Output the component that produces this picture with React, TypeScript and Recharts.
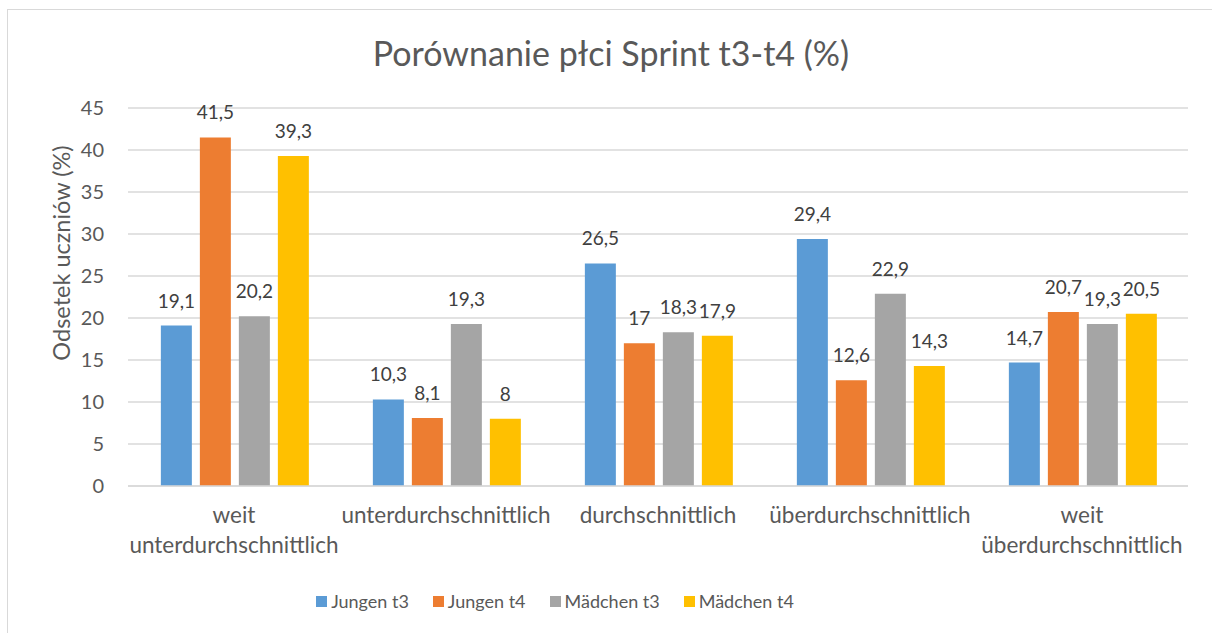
import React from "react";
import { BarChart, Bar, XAxis, YAxis, CartesianGrid, Legend, LabelList } from "recharts";

const categories = [
  "weit unterdurchschnittlich",
  "unterdurchschnittlich",
  "durchschnittlich",
  "überdurchschnittlich",
  "weit überdurchschnittlich",
];
const jungenT3 = [19.1, 10.3, 26.5, 29.4, 14.7];
const jungenT4 = [41.5, 8.1, 17, 12.6, 20.7];
const maedchenT3 = [20.2, 19.3, 18.3, 22.9, 19.3];
const maedchenT4 = [39.3, 8, 17.9, 14.3, 20.5];
const seriesNames = ["Jungen t3", "Jungen t4", "Mädchen t3", "Mädchen t4"];
const seriesKeys = ["jt3", "jt4", "mt3", "mt4"];
const seriesColors = ["#5B9BD5", "#ED7D31", "#A5A5A5", "#FFC000"];
const yTicks = [0, 5, 10, 15, 20, 25, 30, 35, 40, 45];
const title = "Porównanie płci Sprint t3-t4 (%)";
const yLabel = "Odsetek uczniów (%)";

const data = categories.map((c, i) => ({
  category: c,
  jt3: jungenT3[i],
  jt4: jungenT4[i],
  mt3: maedchenT3[i],
  mt4: maedchenT4[i],
}));

const FONT = "Lato, 'Open Sans', sans-serif";
const TEXT = "#595959";

const XTick = (props: any) => {
  const { x, y, payload } = props;
  const words = String(payload.value).split(" ");
  return (
    <g>
      {words.map((w: string, i: number) => (
        <text
          key={i}
          x={x}
          y={y + 29 + i * 30}
          textAnchor="middle"
          fill={TEXT}
          fontSize={22.5}
          fontFamily={FONT}
        >
          {w}
        </text>
      ))}
    </g>
  );
};

const fmt = (v: any) => String(v).replace(".", ",");

const DataLabel = (props: any) => {
  const { x, y, width, value } = props;
  return (
    <text
      x={x + width / 2}
      y={y - 18}
      textAnchor="middle"
      fill="#404040"
      fontSize={19}
      fontFamily={FONT}
    >
      {fmt(value)}
    </text>
  );
};

const LegendContent = () => (
  <div
    style={{
      display: "flex",
      justifyContent: "center",
      alignItems: "center",
      height: 30,
      paddingRight: 86,
      fontFamily: FONT,
      fontSize: 18,
      color: TEXT,
    }}
  >
    {seriesNames.map((n, i) => (
      <div key={n} style={{ display: "flex", alignItems: "center", marginRight: i < 3 ? 24 : 0 }}>
        <span style={{ width: 11, height: 11, background: seriesColors[i], display: "inline-block", marginRight: 4 }} />
        <span>{n}</span>
      </div>
    ))}
  </div>
);

const YLabel = () => (
  <text
    x={70}
    y={253}
    transform="rotate(-90 70 253)"
    textAnchor="middle"
    fill={TEXT}
    fontSize={23.5}
    fontFamily={FONT}
  >
    {yLabel}
  </text>
);

export default function App() {
  return (
    <div style={{ position: "fixed", left: 0, top: 0, width: 1212, height: 633, overflow: "hidden", background: "#fff" }}>
      <div
        style={{
          position: "absolute",
          left: 7,
          top: 9,
          width: 1230,
          height: 660,
          border: "1.5px solid #d9d9d9",
          boxSizing: "border-box",
        }}
      />
      <div
        style={{
          position: "absolute",
          left: 5,
          top: 32,
          width: 1212,
          textAlign: "center",
          fontFamily: FONT,
          fontSize: 34,
          color: TEXT,
        }}
      >
        {title}
      </div>
      <div style={{ position: "absolute", left: 0, top: 0 }}>
        <BarChart
          width={1212}
          height={633}
          data={data}
          margin={{ top: 108, right: 24, left: 8, bottom: 17 }}
          barCategoryGap="15.5%"
          barGap={8}
        >
          <CartesianGrid vertical={false} stroke="#d9d9d9" strokeWidth={1.3} />
          <XAxis
            dataKey="category"
            height={100}
            axisLine={{ stroke: "#d9d9d9", strokeWidth: 1.3 }}
            tickLine={false}
            tick={<XTick />}
            interval={0}
          />
          <YAxis
            width={120}
            domain={[0, 45]}
            ticks={yTicks}
            axisLine={false}
            tickLine={false}
            tickMargin={18}
            tick={{ fill: TEXT, fontSize: 20, fontFamily: FONT }}
            label={{ content: <YLabel /> }}
          />
          <Legend verticalAlign="bottom" height={30} content={<LegendContent />} />
          {seriesKeys.map((k, i) => (
            <Bar key={k} dataKey={k} name={seriesNames[i]} fill={seriesColors[i]} isAnimationActive={false}>
              <LabelList dataKey={k} content={<DataLabel />} />
            </Bar>
          ))}
        </BarChart>
      </div>
    </div>
  );
}
